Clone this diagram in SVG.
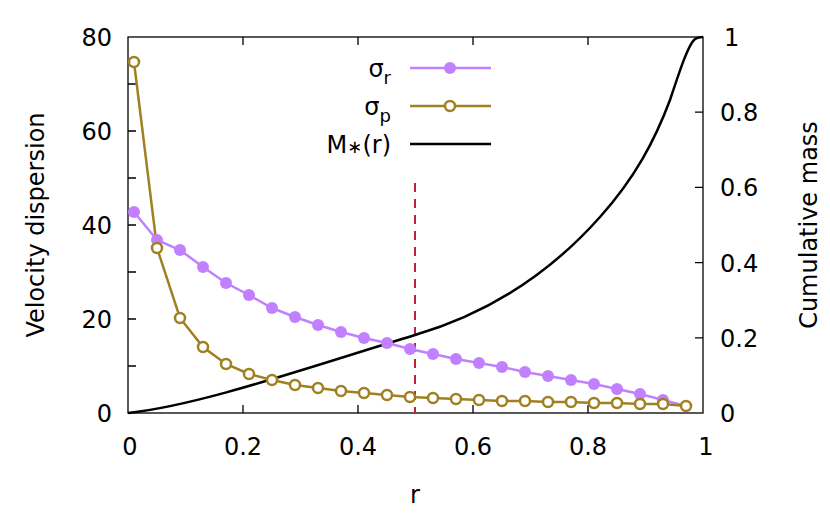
<svg xmlns="http://www.w3.org/2000/svg" width="830" height="514" viewBox="0 0 830 514">
<style>
text{font-family:"DejaVu Sans",sans-serif;font-size:24px;fill:#000}
.ax{stroke:#000;stroke-width:1.3;fill:none}
.r{stroke:#c080ff;stroke-width:2.5;fill:none}
.p{stroke:#a08020;stroke-width:2.5;fill:none}
.rc{fill:#c080ff}
.pc{fill:#fff;stroke:#a08020;stroke-width:2.5}
</style>
<rect width="830" height="514" fill="#fff"/>
<g id="axes">
<rect class="ax" x="128" y="37" width="575" height="376"/>
<path class="ax" d="M128 366h8M128 319h8M128 272h8M128 225h8M128 178h8M128 131h8M128 84h8M703 337.8h-8M703 262.6h-8M703 187.4h-8M703 112.2h-8M243 413v-8M358 413v-8M473 413v-8M588 413v-8M243 37v8M358 37v8M473 37v8M588 37v8"/>
<g text-anchor="end">
<text x="112" y="422">0</text><text x="112" y="328">20</text><text x="112" y="234">40</text><text x="112" y="140">60</text><text x="112" y="46">80</text>
</g>
<g text-anchor="start">
<text x="720" y="422">0</text><text x="720" y="347">0.2</text><text x="720" y="272">0.4</text><text x="720" y="196">0.6</text><text x="720" y="121">0.8</text><text x="724" y="46">1</text>
</g>
<g text-anchor="middle">
<text x="130" y="455">0</text><text x="243" y="455">0.2</text><text x="358" y="455">0.4</text><text x="473" y="455">0.6</text><text x="588" y="455">0.8</text><text x="706" y="455">1</text>
<text x="415" y="503">r</text>
<text transform="translate(44 225) rotate(-90)">Velocity dispersion</text>
<text transform="translate(817 225) rotate(-90)">Cumulative mass</text>
</g>
</g>
<g id="connectors">
<path d="M415 183V413" stroke="#c0203c" stroke-width="2" stroke-dasharray="9,7" fill="none"/>
<path fill="none" stroke="#000" stroke-width="2.5" d="M128 413C200 405 300 370 415 335C500 310 560 262 600 217C635 178 655 140 670 100C680 70 688 45 695 39C698 37 700 37 703 37"/>
<polyline class="r" points="134,212 157,240 180,250 203,267 226,283 249,295 272,308 295,317 318,325 341,332 364,338 387,343 410,349 433,354 456,359 479,363 502,367 525,372 548,376 571,380 594,384 617,389 640,394 663,400 686,406"/>
<polyline class="p" points="134,62 157,248 180,318 203,347 226,364 249,374 272,380 295,385 318,388 341,391 364,393 387,395 410,397 433,398 456,399 479,400 502,401 525,401 548,402 571,402 594,403 617,403 640,404 663,404 686,406"/>
</g>
<g id="sigma_r_points" class="rc">
<circle cx="134" cy="212" r="6"/><circle cx="157" cy="240" r="6"/><circle cx="180" cy="250" r="6"/><circle cx="203" cy="267" r="6"/><circle cx="226" cy="283" r="6"/><circle cx="249" cy="295" r="6"/><circle cx="272" cy="308" r="6"/><circle cx="295" cy="317" r="6"/><circle cx="318" cy="325" r="6"/><circle cx="341" cy="332" r="6"/><circle cx="364" cy="338" r="6"/><circle cx="387" cy="343" r="6"/><circle cx="410" cy="349" r="6"/><circle cx="433" cy="354" r="6"/><circle cx="456" cy="359" r="6"/><circle cx="479" cy="363" r="6"/><circle cx="502" cy="367" r="6"/><circle cx="525" cy="372" r="6"/><circle cx="548" cy="376" r="6"/><circle cx="571" cy="380" r="6"/><circle cx="594" cy="384" r="6"/><circle cx="617" cy="389" r="6"/><circle cx="640" cy="394" r="6"/><circle cx="663" cy="400" r="6"/>
</g>
<g id="sigma_p_points" class="pc">
<circle cx="134" cy="62" r="5"/><circle cx="157" cy="248" r="5"/><circle cx="180" cy="318" r="5"/><circle cx="203" cy="347" r="5"/><circle cx="226" cy="364" r="5"/><circle cx="249" cy="374" r="5"/><circle cx="272" cy="380" r="5"/><circle cx="295" cy="385" r="5"/><circle cx="318" cy="388" r="5"/><circle cx="341" cy="391" r="5"/><circle cx="364" cy="393" r="5"/><circle cx="387" cy="395" r="5"/><circle cx="410" cy="397" r="5"/><circle cx="433" cy="398" r="5"/><circle cx="456" cy="399" r="5"/><circle cx="479" cy="400" r="5"/><circle cx="502" cy="401" r="5"/><circle cx="525" cy="401" r="5"/><circle cx="548" cy="402" r="5"/><circle cx="571" cy="402" r="5"/><circle cx="594" cy="403" r="5"/><circle cx="617" cy="403" r="5"/><circle cx="640" cy="404" r="5"/><circle cx="663" cy="404" r="5"/><circle cx="686" cy="406" r="5"/>
</g>
<g id="legend">
<text x="391" y="77" text-anchor="end">σ<tspan font-size="18" dy="7">r</tspan></text>
<text x="391" y="115" text-anchor="end">σ<tspan font-size="18" dy="7">p</tspan></text>
<text x="391" y="153" text-anchor="end">M<tspan font-size="18">∗</tspan>(r)</text>
<path class="r" d="M410 68H491"/><circle class="rc" cx="450" cy="68" r="6"/>
<path class="p" d="M410 106H491"/><circle class="pc" cx="450" cy="106" r="5"/>
<path d="M410 144H491" stroke="#000" stroke-width="2.5"/>
</g>
</svg>
